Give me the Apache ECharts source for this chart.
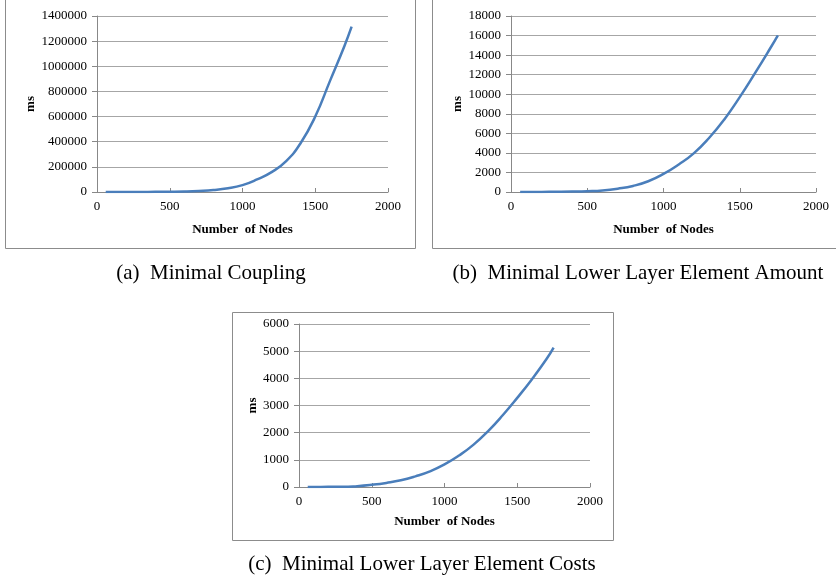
<!DOCTYPE html>
<html>
<head>
<meta charset="utf-8">
<script src="https://cdn.jsdelivr.net/npm/echarts@6/dist/echarts.min.js"></script>
<style>
    html, body { margin: 0; padding: 0; background: #fff; }
    #chart { width: 836px; height: 576px; }
</style>
</head>
<body>
<div id="chart"></div>
<script>
// node counts (x) and run time in ms for the three strategies
var nodes = [60, 100, 200, 300, 400, 500, 600, 700, 800, 900, 1000, 1100, 1200, 1300, 1400, 1500, 1600, 1700, 1750];
var couplingMs = [0, 100, 300, 600, 1200, 2200, 4000, 8000, 15000, 29000, 55000, 100000, 158000, 245000, 390000, 600000, 880000, 1160000, 1315000];
var amountMs = [0, 5, 10, 20, 40, 80, 160, 340, 620, 1100, 1850, 2820, 3980, 5550, 7450, 9700, 12150, 14700, 16030];
var costsMs = [0, 0, 5, 5, 30, 80, 150, 245, 390, 575, 830, 1160, 1560, 2060, 2640, 3280, 3960, 4700, 5130];

var xTicks = [0, 500, 1000, 1500, 2000];
var captions = ['(a)  Minimal Coupling', '(b)  Minimal Lower Layer Element Amount', '(c)  Minimal Lower Layer Element Costs'];

var serif = '"Liberation Serif", "DejaVu Serif", serif';
var lineBlue = '#4a7ebb';

function pairs(ys) {
    return nodes.map(function (x, i) { return [x, ys[i]]; });
}

function plain(v) { return String(v); }

function xAxisOf(idx, nameGap) {
    return {
        type: 'value', gridIndex: idx, min: xTicks[0], max: xTicks[xTicks.length - 1], interval: 500,
        name: 'Number  of Nodes', nameLocation: 'middle', nameGap: nameGap,
        nameTextStyle: { fontFamily: serif, fontWeight: 'bold', fontSize: 13, color: '#000' },
        axisLine: { onZero: false, lineStyle: { color: '#888', width: 1 } },
        axisTick: { show: true, inside: true, length: 4, lineStyle: { color: '#888' } },
        axisLabel: { fontFamily: serif, fontSize: 13, color: '#000', margin: 8, formatter: plain },
        splitLine: { show: false }
    };
}

function yAxisOf(idx, max, interval, nameGap) {
    return {
        type: 'value', gridIndex: idx, min: 0, max: max, interval: interval,
        name: 'ms', nameLocation: 'middle', nameGap: nameGap, nameRotate: 90,
        nameTextStyle: { fontFamily: serif, fontWeight: 'bold', fontSize: 13, color: '#000' },
        axisLine: { show: true, lineStyle: { color: '#888', width: 1 } },
        axisTick: { show: true, inside: false, length: 5, lineStyle: { color: '#888' } },
        axisLabel: { fontFamily: serif, fontSize: 13, color: '#000', margin: 10, formatter: plain },
        splitLine: { show: true, lineStyle: { color: '#a6a6a6', width: 1 } }
    };
}

function lineOf(idx, ys) {
    return {
        type: 'line', xAxisIndex: idx, yAxisIndex: idx, data: pairs(ys),
        smooth: 0.5, showSymbol: false, symbol: 'none',
        lineStyle: { color: lineBlue, width: 2.5 }
    };
}

var capStyle = { fontFamily: serif, fontWeight: 'normal', fontSize: 21, color: '#000' };

var chart = echarts.init(document.getElementById('chart'), null, { renderer: 'canvas' });
chart.setOption({
    animation: false,
    backgroundColor: '#fff',
    grid: [
        { left: 97, right: 448, top: 16, bottom: 384 },
        { left: 511, right: 20, top: 16, bottom: 384 },
        { left: 299, right: 246, top: 324, bottom: 89 }
    ],
    xAxis: [xAxisOf(0, 31), xAxisOf(1, 31), xAxisOf(2, 28)],
    yAxis: [
        yAxisOf(0, 1400000, 200000, 58),
        yAxisOf(1, 18000, 2000, 44),
        yAxisOf(2, 6000, 1000, 35)
    ],
    series: [lineOf(0, couplingMs), lineOf(1, amountMs), lineOf(2, costsMs)],
    title: [
        { text: captions[0], left: 206, top: 258, textAlign: 'center', textStyle: capStyle },
        { text: captions[1], left: 633, top: 258, textAlign: 'center', textStyle: capStyle },
        { text: captions[2], left: 417, top: 549, textAlign: 'center', textStyle: capStyle }
    ],
    graphic: [
        { type: 'rect', shape: { x: 5.5, y: -5, width: 410, height: 253.5 }, style: { fill: 'none', stroke: '#8c8c8c', lineWidth: 1 }, z: -1 },
        { type: 'rect', shape: { x: 432.5, y: -5, width: 420, height: 253.5 }, style: { fill: 'none', stroke: '#8c8c8c', lineWidth: 1 }, z: -1 },
        { type: 'rect', shape: { x: 232.5, y: 312.5, width: 381, height: 228 }, style: { fill: 'none', stroke: '#8c8c8c', lineWidth: 1 }, z: -1 }
    ]
});
</script>
</body>
</html>
